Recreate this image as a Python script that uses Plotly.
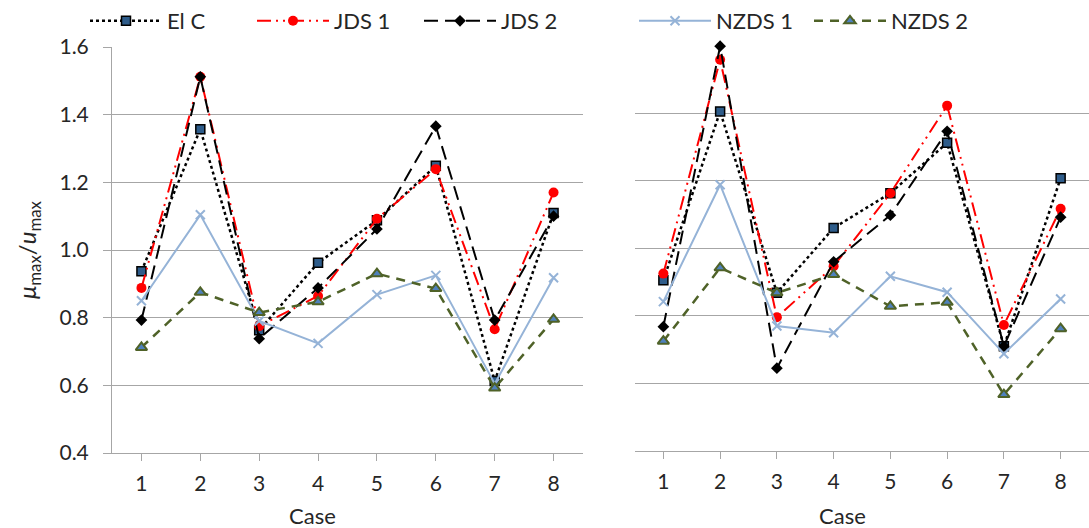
import plotly.graph_objects as go

cases = [1, 2, 3, 4, 5, 6, 7, 8]
y_ticks = [0.4, 0.6, 0.8, 1.0, 1.2, 1.4, 1.6]
y_tick_text = ["0.4", "0.6", "0.8", "1.0", "1.2", "1.4", "1.6"]

# Left panel
elc_left = [0.937, 1.357, 0.763, 0.962, 1.088, 1.249, 0.613, 1.109]
jds1_left = [0.888, 1.512, 0.775, 0.864, 1.092, 1.239, 0.766, 1.170]
jds2_left = [0.793, 1.512, 0.738, 0.888, 1.062, 1.366, 0.793, 1.100]
nzds1_left = [0.850, 1.104, 0.790, 0.724, 0.868, 0.925, 0.605, 0.918]
nzds2_left = [0.712, 0.875, 0.815, 0.847, 0.930, 0.886, 0.592, 0.795]

# Right panel
elc_right = [0.905, 1.405, 0.868, 1.060, 1.163, 1.312, 0.710, 1.207]
jds1_right = [0.925, 1.558, 0.796, 0.947, 1.163, 1.422, 0.773, 1.117]
jds2_right = [0.768, 1.598, 0.645, 0.960, 1.098, 1.346, 0.710, 1.092]
nzds1_right = [0.842, 1.188, 0.770, 0.750, 0.917, 0.870, 0.688, 0.850]
nzds2_right = [0.725, 0.942, 0.868, 0.922, 0.828, 0.840, 0.567, 0.762]

FONT = "Lato"
TXT = "#262626"
GRID = "#a6a6a6"

styles = {
    "El C": dict(line=dict(color="black", width=2.5, dash="dot"),
                 marker=dict(symbol="square", size=9, color="#2e5c8a",
                             line=dict(color="black", width=1.5)),
                 legend="legend"),
    "JDS 1": dict(line=dict(color="#ff0000", width=2, dash="14px,5px,2px,5px,2px,5px"),
                  marker=dict(symbol="circle", size=10, color="#ff0000"),
                  legend="legend"),
    "JDS 2": dict(line=dict(color="black", width=2, dash="14px,7px"),
                  marker=dict(symbol="diamond", size=9, color="black"),
                  legend="legend"),
    "NZDS 1": dict(line=dict(color="#95b3d7", width=2, dash="solid"),
                   marker=dict(symbol="x-thin", size=9, color="#95b3d7",
                               line=dict(color="#95b3d7", width=2)),
                   legend="legend2"),
    "NZDS 2": dict(line=dict(color="#4f6228", width=2.5, dash="9px,7px"),
                   marker=dict(symbol="triangle-up", size=10, color="#4f81bd",
                               line=dict(color="#4f6228", width=2)),
                   legend="legend2"),
}

left = {"El C": elc_left, "JDS 1": jds1_left, "JDS 2": jds2_left,
        "NZDS 1": nzds1_left, "NZDS 2": nzds2_left}
right = {"El C": elc_right, "JDS 1": jds1_right, "JDS 2": jds2_right,
         "NZDS 1": nzds1_right, "NZDS 2": nzds2_right}

fig = go.Figure()
for name, vals in left.items():
    s = styles[name]
    fig.add_trace(go.Scatter(x=cases, y=vals, name=name, mode="lines+markers",
                             line=s["line"], marker=s["marker"], legend=s["legend"],
                             xaxis="x", yaxis="y", showlegend=True, cliponaxis=False))
for name, vals in right.items():
    s = styles[name]
    fig.add_trace(go.Scatter(x=cases, y=vals, name=name, mode="lines+markers",
                             line=s["line"], marker=s["marker"], legend=s["legend"],
                             xaxis="x2", yaxis="y2", showlegend=False, cliponaxis=False))

W, H = 1089, 528
tickfont = dict(family=FONT, size=21, color=TXT)

xcommon = dict(range=[0.5, 8.5], tickvals=cases, ticktext=[str(c) for c in cases],
               showgrid=False, zeroline=False, ticks="outside", ticklen=7,
               tickcolor=GRID, tickwidth=1, showline=True, linecolor=GRID,
               linewidth=1, tickfont=tickfont, ticklabelstandoff=5, fixedrange=True)

legfont = dict(family=FONT, size=22, color=TXT)

fig.update_layout(
    width=W, height=H,
    margin=dict(l=0, r=0, t=0, b=0, autoexpand=False),
    paper_bgcolor="white", plot_bgcolor="white",
    font=dict(family=FONT, color=TXT),
    xaxis=dict(domain=[112 / W, 583 / W], anchor="y", **xcommon),
    xaxis2=dict(domain=[635 / W, 1.0], anchor="y2", **xcommon),
    yaxis=dict(domain=[(H - 453) / H, (H - 47) / H], range=[0.4, 1.6],
               tickvals=y_ticks, ticktext=y_tick_text, showgrid=True,
               gridcolor=GRID, gridwidth=1, zeroline=False, showline=True,
               linecolor=GRID, linewidth=1, ticks="outside", ticklen=8,
               tickcolor=GRID, tickfont=tickfont, ticklabelstandoff=10,
               anchor="x", fixedrange=True),
    yaxis2=dict(domain=[(H - 451) / H, (H - 45.5) / H], range=[0.4, 1.6],
                tickvals=y_ticks, showticklabels=False, showgrid=True,
                gridcolor=GRID, gridwidth=1, zeroline=False, showline=False,
                ticks="", anchor="x2", fixedrange=True),
    legend=dict(orientation="h", x=85 / W, xanchor="left", y=1.0, yanchor="top",
                font=legfont, itemwidth=72, entrywidth=80,
                bgcolor="rgba(0,0,0,0)", traceorder="normal"),
    legend2=dict(orientation="h", x=634 / W, xanchor="left", y=1.0, yanchor="top",
                 font=legfont, itemwidth=72, entrywidth=88,
                 bgcolor="rgba(0,0,0,0)", traceorder="normal"),
    showlegend=True,
)

fig.add_annotation(text="<i>μ</i><sub>max</sub>/<i>u</i><sub>max</sub>",
                   xref="paper", yref="paper", x=28 / W, y=(H - 250) / H,
                   textangle=-90, showarrow=False, xanchor="center", yanchor="middle",
                   font=dict(family=FONT, size=24, color=TXT))
fig.add_annotation(text="Case", xref="paper", yref="paper", x=312 / W, y=(H - 515) / H,
                   showarrow=False, xanchor="center", yanchor="middle",
                   font=dict(family=FONT, size=22, color=TXT))
fig.add_annotation(text="Case", xref="paper", yref="paper", x=842 / W, y=(H - 515) / H,
                   showarrow=False, xanchor="center", yanchor="middle",
                   font=dict(family=FONT, size=22, color=TXT))

fig.write_html("out.html")
